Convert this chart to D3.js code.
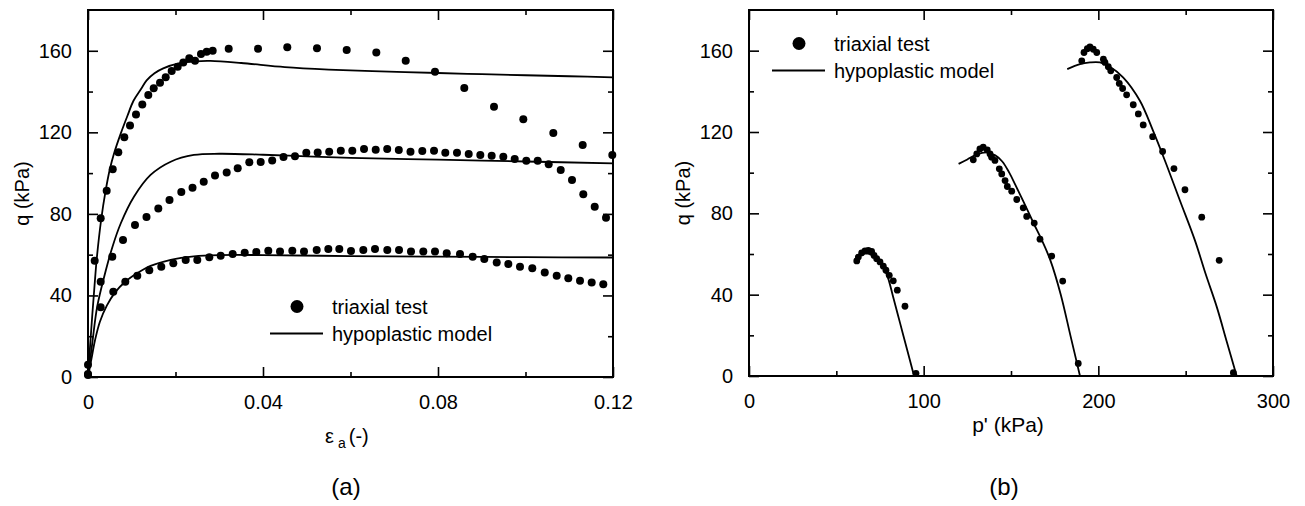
<!DOCTYPE html>
<html>
<head>
<meta charset="utf-8">
<style>
  body { margin: 0; background: #fff; }
  text { font-family: "Liberation Sans", Arial, sans-serif; fill: #000; }
</style>
</head>
<body>
<svg id="chart" width="1305" height="506"></svg>

<script src="https://d3js.org/d3.v7.min.js"></script>
<script>
// ---- data: (a) axial strain vs deviator stress ----
let testHighA = [[0,1],[0.00153,57],[0.0029,77.8],[0.00427,91.4],[0.00565,101.9],[0.00693,110.2],[0.0083,117.6],
  [0.0096,123.3],[0.01097,128.8],[0.01241,133.6],[0.01378,138.3],[0.01502,141.6],[0.01646,144.3],[0.01776,147],
  [0.01913,150.1],[0.0205,152.2],[0.02178,154.2],[0.02315,156.3],[0.02446,155.1],[0.02583,158.4],[0.02713,159.5],
  [0.0285,160],[0.03216,161],[0.03886,161],[0.04555,161.7],[0.05234,161.2],[0.05913,160.4],[0.0659,159.1],
  [0.07262,155.1],[0.07931,149.7],[0.08601,141.7],[0.0928,132.6],[0.0995,126.4],[0.10636,119.7],[0.11307,113.8],
  [0.11984,108.9]]
let testMidA = [[0,6],[0.0029,46.7],[0.00555,59],[0.008,67.2],[0.01074,74.5],[0.01337,78.5],[0.01607,82.7],
  [0.01863,86.8],[0.02133,90.7],[0.02389,92.8],[0.02645,95.8],[0.02903,98.8],[0.0317,100.3],[0.03422,102.4],
  [0.03687,105.3],[0.03947,105.4],[0.0421,106.2],[0.04469,107.9],[0.04731,108.3],[0.0499,110],[0.0525,110.1],
  [0.05513,110.5],[0.05778,111],[0.06041,111],[0.06309,111.8],[0.06576,111.5],[0.06839,111.8],[0.07104,111.3],
  [0.07371,110.5],[0.07641,110.9],[0.07909,111],[0.08167,110],[0.08434,110],[0.08702,109.4],[0.08967,108.9],
  [0.09227,108.5],[0.09493,108],[0.09753,106.9],[0.10018,106.1],[0.10279,106.1],[0.1053,104.3],[0.10805,101.5],
  [0.11063,96.6],[0.11321,89.6],[0.11582,83.5],[0.1184,78.1]]
let testLowA = [[0,1.5],[0.0029,34.2],[0.00578,41.8],[0.00853,46.7],[0.01127,49.7],[0.01401,52.3],[0.01675,54.1],
  [0.0195,55.8],[0.02233,57.4],[0.02498,57.4],[0.02773,58.7],[0.03033,59.5],[0.03307,60.3],[0.03582,61],
  [0.03847,61.3],[0.04121,61.9],[0.04389,61.5],[0.0467,61.9],[0.04937,61.5],[0.05227,62.3],[0.05493,62.8],
  [0.05744,62.8],[0.06011,61.8],[0.06293,62.3],[0.0656,62.8],[0.06841,62.3],[0.07109,62.3],[0.07383,61.5],
  [0.07664,61.5],[0.07931,61.5],[0.08199,60.7],[0.08503,60.3],[0.08793,59],[0.09058,57.9],[0.09342,56.1],
  [0.09607,55.4],[0.09874,54.1],[0.10155,53.3],[0.1044,51.2],[0.10713,49.7],[0.10978,48.4],[0.11246,47.2],
  [0.11513,46.3],[0.11778,45.5]]

let modelHighA = [[0,0],[0.0005,16],[0.001,31],[0.0015,45],[0.002,58],[0.003,77],[0.004,91],[0.005,102],
  [0.006,110],[0.0075,119.5],[0.009,128],[0.0104,135.5],[0.0122,141.5],[0.0134,145.5],[0.0152,149],
  [0.0172,151.4],[0.021,153.9],[0.0245,154.8],[0.028,155],[0.035,154],[0.045,152],[0.055,150.8],[0.065,150],
  [0.08,149.1],[0.09,148.5],[0.1,148],[0.11,147.5],[0.12,147]]
let modelMidA = [[0,0],[0.001,17],[0.0021,34.5],[0.0037,49.2],[0.0056,63.9],[0.0075,75.4],[0.0105,88.4],
  [0.0143,99.1],[0.0189,105.6],[0.0242,108.9],[0.03,109.5],[0.04,109],[0.05,108.2],[0.06,107.5],[0.08,106.6],
  [0.1,105.7],[0.12,104.8]]
let modelLowA = [[0,0],[0.0008,9],[0.0016,18],[0.0027,27],[0.0043,35],[0.0062,41.5],[0.0085,46.7],[0.0113,51],
  [0.0143,54.5],[0.0189,57.5],[0.0242,59.2],[0.03,59.8],[0.04,59.8],[0.06,59.3],[0.08,59],[0.1,58.8],[0.12,58.6]]

// ---- data: (b) mean effective stress vs deviator stress ----
let testHighB = [[277.3,1.6],[269.2,56.9],[259.2,78.1],[249.6,91.6],[243.3,102],[236.8,110.4],[231.1,117.7],
  [225.7,123.5],[222.9,128.9],[220,133.4],[216.2,138.3],[213.9,141.4],[212,143.9],[210.5,146.8],[207.1,150.1],
  [205.7,152.1],[203.8,154.2],[202.9,155.8],[199.1,159.1],[197.1,160.7],[195.2,161.9],[193.7,161],[191.8,159.1],
  [190.5,155]]
let testMidB = [[188.5,6.2],[179.6,46.7],[173.3,59],[166.6,67.3],[163.3,75.2],[159,78.5],[157,82.7],[153.3,86.8],
  [150.4,90.9],[147.9,93.2],[146.6,96.1],[144.7,99.4],[143.3,101.9],[140.8,106],[138.9,107.6],[138,109.2],
  [136.4,111.2],[134.1,112.5],[132.2,111.7],[130.4,109.2],[128.4,106.3]]
let testLowB = [[95.6,1.3],[89.3,34.3],[84.9,42.2],[82.6,46.8],[80.3,49.5],[78.4,52],[76.9,54],[75,56.1],
  [73.1,57.7],[71.6,59.3],[70.2,61.3],[68.3,61.8],[66.4,61.5],[64.5,60.5],[62.6,58.5],[61.7,56.6]]

let modelHighB = [[279.2,0],[273.5,17],[267.8,34],[261.5,50],[255.3,66.7],[246.7,86.3],[238.1,106],[231.3,120.7],
  [223.8,135.4],[214.3,146.8],[206.6,152.1],[200.9,154.2],[195.2,154.2],[189.5,153.4],[182.2,150.9]]
let modelMidB = [[189.5,0],[184,20],[178.5,40],[172.5,57],[167,68],[163,75],[157,86],[152.5,94],[149,100],
  [145,105.5],[141,108.5],[136,110],[130.5,109],[125,106.5],[120,104.3]]
let modelLowB = [[94.5,0],[90.5,13],[86.5,26],[82.5,39],[79.5,48.5],[77,53.5],[74.5,56.8],[71.5,59],[68,60.2],
  [65,60.3],[62.5,59.6]]

let xTicksA = [0, 0.04, 0.08, 0.12], xMinorA = [0.02, 0.06, 0.1]
let xTicksB = [0, 100, 200, 300], xMinorB = [50, 150, 250]
let yTicks = [0, 40, 80, 120, 160], yMinor = [20, 60, 100, 140]

let svg = d3.select("#chart")
let fs = 20

function drawPanel(opt) {
    let g = svg.append("g")
    let x = d3.scaleLinear().domain(opt.xDomain).range([opt.left, opt.right])
    let y = d3.scaleLinear().domain([0, 180]).range([opt.bottom, opt.top])

    function axis(gen, tr, vals, size, fmt, pad) {
        let a = gen.tickValues(vals).tickSizeInner(size).tickSizeOuter(0).tickPadding(pad || 0)
        a.tickFormat(fmt || (() => ""))
        let s = g.append("g").attr("transform", tr).call(a)
        s.select(".domain").remove()
        s.selectAll("line").attr("stroke", "#000").attr("stroke-width", 1.6)
        s.selectAll("text").style("font-size", fs + "px").attr("fill", "#000")
        return s
    }
    let bt = "translate(0," + opt.bottom + ")", tp = "translate(0," + opt.top + ")"
    let lf = "translate(" + opt.left + ",0)", rt = "translate(" + opt.right + ",0)"
    axis(d3.axisBottom(x), bt, opt.xTicks, -10, opt.xFmt, 18)
    axis(d3.axisBottom(x), bt, opt.xMinor, -5)
    axis(d3.axisTop(x), tp, opt.xTicks, -10)
    axis(d3.axisTop(x), tp, opt.xMinor, -5)
    axis(d3.axisLeft(y), lf, yTicks, -10, d3.format("d"), 16)
    axis(d3.axisLeft(y), lf, yMinor, -5)
    axis(d3.axisRight(y), rt, yTicks, -10)
    axis(d3.axisRight(y), rt, yMinor, -5)

    g.append("rect")
        .attr("x", opt.left).attr("y", opt.top)
        .attr("width", opt.right - opt.left).attr("height", opt.bottom - opt.top)
        .attr("fill", "none").attr("stroke", "#000").attr("stroke-width", 2)

    let line = d3.line().x(d => x(d[0])).y(d => y(d[1])).curve(d3.curveCatmullRom.alpha(0.5))
    opt.models.forEach(m => {
        g.append("path").attr("d", line(m))
            .attr("fill", "none").attr("stroke", "#000").attr("stroke-width", 1.8)
    })
    opt.tests.forEach(t => {
        g.append("g").selectAll("circle")
            .data(t)
            .enter()
            .append("circle")
                .attr("cx", d => x(d[0]))
                .attr("cy", d => y(d[1]))
                .attr("r", opt.dotR)
                .attr("fill", "#000")
    })

    // y axis title
    g.append("text")
        .attr("transform", "translate(" + (opt.left - 66) + "," + ((opt.top + opt.bottom) / 2) + ") rotate(-90)")
        .attr("text-anchor", "middle").attr("dy", "0.35em")
        .style("font-size", fs + "px")
        .text("q (kPa)")

    // legend
    let L = opt.legend
    g.append("circle").attr("cx", L.x + 27).attr("cy", L.y).attr("r", 6.5).attr("fill", "#000")
    g.append("line").attr("x1", L.x).attr("x2", L.x + 53).attr("y1", L.y + 27).attr("y2", L.y + 27)
        .attr("stroke", "#000").attr("stroke-width", 1.8)
    g.append("text").attr("x", L.x + 62).attr("y", L.y + 7.5).style("font-size", fs + "px").text("triaxial test")
    g.append("text").attr("x", L.x + 62).attr("y", L.y + 34).style("font-size", fs + "px").text("hypoplastic model")
    return g
}

let gA = drawPanel({
    left: 88, right: 613, top: 10, bottom: 377,
    xDomain: [0, 0.12], xTicks: xTicksA, xMinor: xMinorA,
    xFmt: d => d === 0 ? "0" : d3.format(".2f")(d),
    tests: [testHighA, testMidA, testLowA], models: [modelHighA, modelMidA, modelLowA],
    dotR: 4, legend: { x: 270, y: 306.5 }
})
let gB = drawPanel({
    left: 749, right: 1273, top: 10, bottom: 376,
    xDomain: [0, 300], xTicks: xTicksB, xMinor: xMinorB,
    xFmt: d3.format("d"),
    tests: [testHighB, testMidB, testLowB], models: [modelHighB, modelMidB, modelLowB],
    dotR: 3.4, legend: { x: 772, y: 43.5 }
})

// x axis titles
let xl = gA.append("text").attr("x", 325).attr("y", 443).style("font-size", fs + "px")
xl.append("tspan").text("\u03b5")
xl.append("tspan").attr("dx", 4).attr("dy", 5).style("font-size", "14px").text("a")
xl.append("tspan").attr("dx", 3).attr("dy", -5).text("(-)")

gB.append("text").attr("x", 1008).attr("y", 432).attr("text-anchor", "middle")
    .style("font-size", "21px").text("p' (kPa)")

// panel captions
svg.append("text").attr("x", 346).attr("y", 495).attr("text-anchor", "middle").style("font-size", "24px").text("(a)")
svg.append("text").attr("x", 1004).attr("y", 495).attr("text-anchor", "middle").style("font-size", "24px").text("(b)")
</script>
</body>
</html>
